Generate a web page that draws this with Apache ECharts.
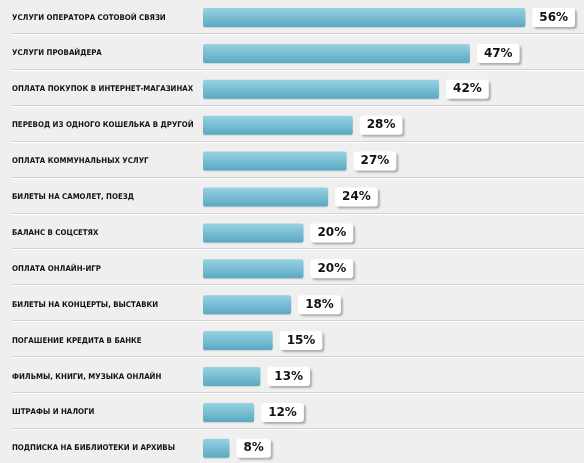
<!DOCTYPE html>
<html><head><meta charset="utf-8">
<script src="https://cdn.jsdelivr.net/npm/echarts@6/dist/echarts.min.js"></script>
<style>html,body{margin:0;padding:0;background:#efefef}#c{width:584px;height:463px}</style>
</head><body><div id="c"></div>
<script>
const categories = [
  'УСЛУГИ ОПЕРАТОРА СОТОВОЙ СВЯЗИ',
  'УСЛУГИ ПРОВАЙДЕРА',
  'ОПЛАТА ПОКУПОК В ИНТЕРНЕТ-МАГАЗИНАХ',
  'ПЕРЕВОД ИЗ ОДНОГО КОШЕЛЬКА В ДРУГОЙ',
  'ОПЛАТА КОММУНАЛЬНЫХ УСЛУГ',
  'БИЛЕТЫ НА САМОЛЕТ, ПОЕЗД',
  'БАЛАНС В СОЦСЕТЯХ',
  'ОПЛАТА ОНЛАЙН-ИГР',
  'БИЛЕТЫ НА КОНЦЕРТЫ, ВЫСТАВКИ',
  'ПОГАШЕНИЕ КРЕДИТА В БАНКЕ',
  'ФИЛЬМЫ, КНИГИ, МУЗЫКА ОНЛАЙН',
  'ШТРАФЫ И НАЛОГИ',
  'ПОДПИСКА НА БИБЛИОТЕКИ И АРХИВЫ'
];
const values = [56, 47, 42, 28, 27, 24, 20, 20, 18, 15, 13, 12, 8];

const chart = echarts.init(document.getElementById('c'), null, {renderer: 'canvas'});
const rowH = 35.9;
const sepRows = categories.slice(1);
chart.setOption({
  backgroundColor: '#efefef',
  animation: false,
  grid: [
    {left: 203, right: 34, top: -0.45, height: rowH * 13, outerBoundsMode: 'none', containLabel: false},
    {left: 12, right: 0, top: 33.3, height: rowH * 12, outerBoundsMode: 'none', containLabel: false}
  ],
  xAxis: [
    {gridIndex: 0, type: 'value', min: 3.7, max: 60, show: false},
    {gridIndex: 1, type: 'value', min: 0, max: 1, show: false}
  ],
  yAxis: [
    {
      gridIndex: 0, type: 'category', data: categories, inverse: true,
      axisLine: {show: false}, axisTick: {show: false}, splitLine: {show: false},
      axisLabel: {
        align: 'left', margin: 191, fontFamily: '"DejaVu Sans Condensed", "Liberation Sans", sans-serif',
        fontWeight: 'bold', fontSize: 7.8, color: '#111111', overflow: 'none', width: 200
      }
    },
    {
      gridIndex: 1, type: 'category', data: sepRows, inverse: true,
      axisLine: {show: false}, axisTick: {show: false}, axisLabel: {show: false},
      splitLine: {show: true, lineStyle: {color: '#d2d2d2', width: 1,
        shadowColor: '#ffffff', shadowOffsetY: 1, shadowBlur: 0}}
    }
  ],
  series: [{
    type: 'bar', xAxisIndex: 0, yAxisIndex: 0, data: values,
    barWidth: 19,
    itemStyle: {
      borderRadius: 2,
      color: new echarts.graphic.LinearGradient(0, 0, 0, 1, [
        {offset: 0, color: '#98d2e2'},
        {offset: 1, color: '#5aa8c3'}
      ]),
      shadowColor: 'rgba(0,0,0,0.12)', shadowOffsetY: 1, shadowBlur: 1
    },
    label: {
      show: true, position: 'right', distance: 7,
      formatter: '{c}%',
      fontFamily: 'DejaVu Sans', fontWeight: 'bold', fontSize: 12, color: '#111',
      backgroundColor: '#ffffff', borderRadius: 3,
      padding: [3, 7, 3, 7], lineHeight: 13,
      shadowColor: 'rgba(0,0,0,0.28)', shadowOffsetX: 2, shadowOffsetY: 2, shadowBlur: 2
    }
  }]
});
</script></body></html>
